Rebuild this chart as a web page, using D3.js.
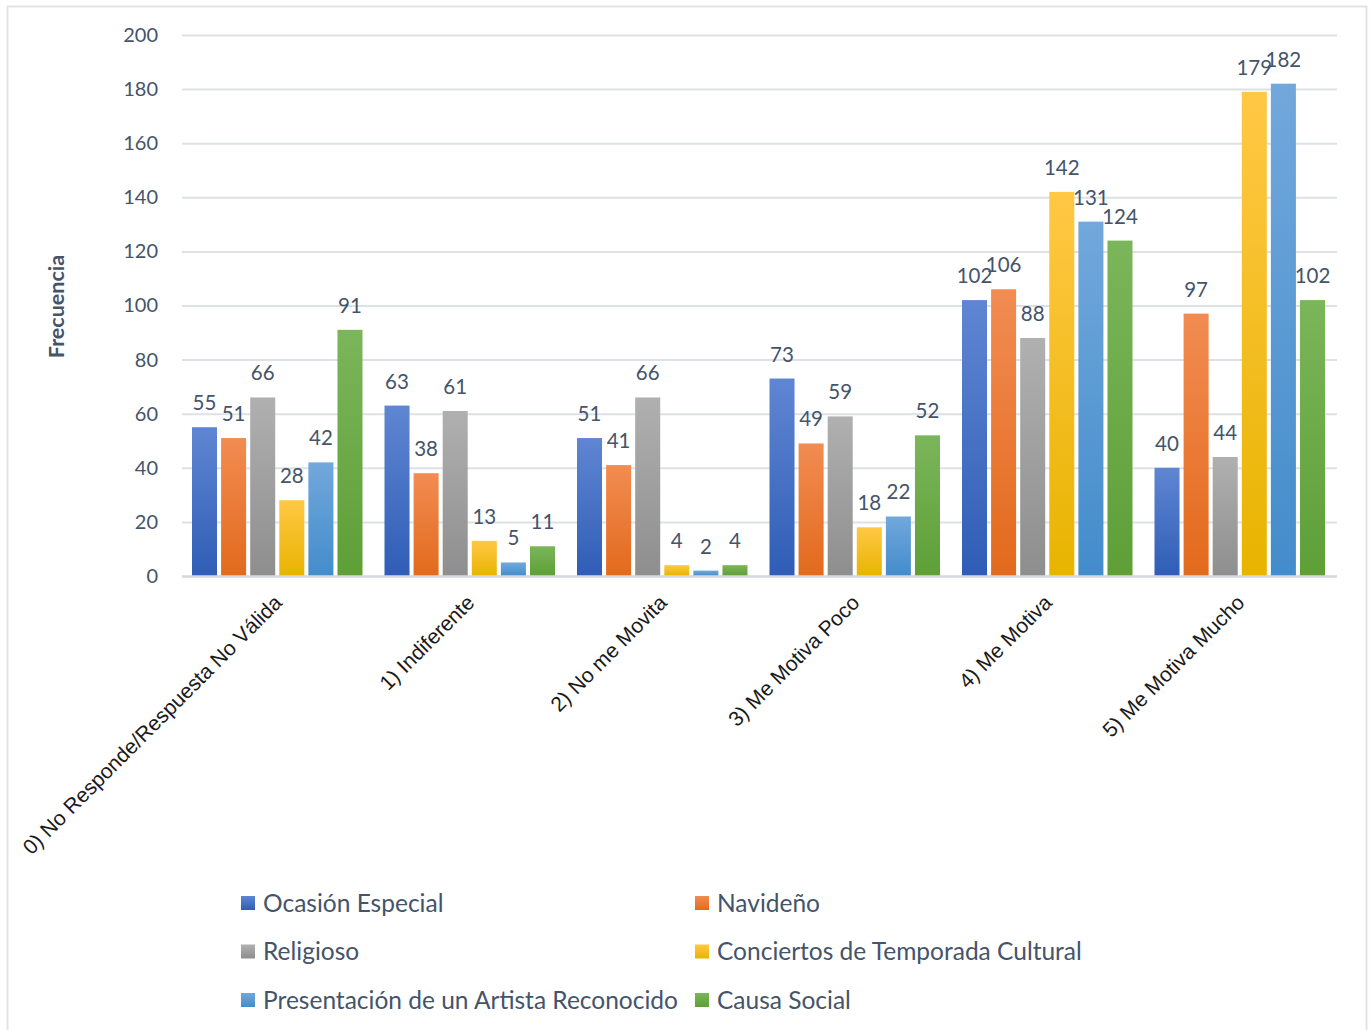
<!DOCTYPE html>
<html>
<head>
<meta charset="utf-8">
<script src="https://cdn.jsdelivr.net/npm/d3@7"></script>
<style>
  html, body { margin: 0; padding: 0; background: #fff; }
  svg { display: block; }
</style>
</head>
<body>
<svg id="chart" width="1371" height="1030"></svg>
<script>
// Response categories (x axis)
const categories = [
  "0) No Responde/Respuesta No Válida",
  "1) Indiferente",
  "2) No me Movita",
  "3) Me Motiva Poco",
  "4) Me Motiva",
  "5) Me Motiva Mucho"
];

// Event types (series)
const seriesNames = [
  "Ocasión Especial",
  "Navideño",
  "Religioso",
  "Conciertos de Temporada Cultural",
  "Presentación de un Artista Reconocido",
  "Causa Social"
];

// Frequencies per series, one value per category
const ocasionEspecial = [55, 63, 51, 73, 102, 40];
const navideno        = [51, 38, 41, 49, 106, 97];
const religioso       = [66, 61, 66, 59, 88, 44];
const conciertos      = [28, 13, 4, 18, 142, 179];
const artista         = [42, 5, 2, 22, 131, 182];
const causaSocial     = [91, 11, 4, 52, 124, 102];

const yTicks = [0, 20, 40, 60, 80, 100, 120, 140, 160, 180, 200];
const yTitle = "Frecuencia";

const seriesValues = [ocasionEspecial, navideno, religioso, conciertos, artista, causaSocial];

// Office palette: [top, bottom] of each bar gradient
const colors = [
  ["#5f86d2", "#2f5db6"],
  ["#f28c52", "#e26a1c"],
  ["#b0b0b0", "#8e8e8e"],
  ["#ffc845", "#e8b400"],
  ["#72a8dc", "#438ccb"],
  ["#7bb65a", "#5e9f37"]
];

const textColor = "#44546a";
const font = "Lato, 'Open Sans', sans-serif";

const svg = d3.select("#chart");

// Outer chart frame
svg.append("rect")
  .attr("x", 7.5).attr("y", 6.5)
  .attr("width", 1359).attr("height", 1040)
  .attr("fill", "none")
  .attr("stroke", "#dfe3e8").attr("stroke-width", 2);

const plot = { left: 182, right: 1337, top: 35, bottom: 576 };

const x0 = d3.scaleBand().domain(categories).range([plot.left, plot.right]);
const x1 = d3.scaleBand().domain(d3.range(seriesNames.length))
  .range([10, x0.bandwidth() - 12]).paddingInner(0.14);
const y = d3.scaleLinear().domain([0, 200]).range([plot.bottom, plot.top]);

// Gradients
const defs = svg.append("defs");
colors.forEach((c, i) => {
  const g = defs.append("linearGradient")
    .attr("id", "grad" + i)
    .attr("x1", 0).attr("y1", 0).attr("x2", 0).attr("y2", 1);
  g.append("stop").attr("offset", "0%").attr("stop-color", c[0]);
  g.append("stop").attr("offset", "100%").attr("stop-color", c[1]);
});

// Gridlines and value axis labels
const yAxis = d3.axisLeft(y).tickValues(yTicks).tickSize(-(plot.right - plot.left)).tickPadding(24);
const gy = svg.append("g")
  .attr("transform", `translate(${plot.left},0)`)
  .call(yAxis);
gy.select(".domain").remove();
gy.selectAll(".tick line").attr("stroke", "#dde1e6").attr("stroke-width", 2);
gy.selectAll(".tick text")
  .attr("fill", textColor)
  .style("font-family", font)
  .style("font-size", "20px");

// Y-axis title
svg.append("text")
  .attr("transform", `translate(64,${(plot.top + plot.bottom) / 2 + 1}) rotate(-90)`)
  .attr("text-anchor", "middle")
  .attr("fill", textColor)
  .style("font-family", font)
  .style("font-weight", "bold")
  .style("font-size", "21.5px")
  .text(yTitle);

// Bars
const groups = svg.append("g").selectAll("g")
  .data(categories)
  .join("g")
  .attr("transform", d => `translate(${x0(d)},0)`);

groups.selectAll("rect")
  .data((d, ci) => seriesValues.map((vals, si) => ({ si, v: vals[ci] })))
  .join("rect")
  .attr("x", d => x1(d.si))
  .attr("y", d => y(d.v))
  .attr("width", x1.bandwidth())
  .attr("height", d => y(0) - y(d.v))
  .attr("fill", d => `url(#grad${d.si})`);

// Data labels
groups.selectAll("text.val")
  .data((d, ci) => seriesValues.map((vals, si) => ({ si, v: vals[ci] })))
  .join("text")
  .attr("class", "val")
  .attr("x", d => x1(d.si) + x1.bandwidth() / 2)
  .attr("y", d => y(d.v) - 17)
  .attr("text-anchor", "middle")
  .attr("fill", textColor)
  .style("font-family", font)
  .style("font-size", "20.5px")
  .text(d => d.v);

// Baseline
svg.append("line")
  .attr("x1", plot.left).attr("x2", plot.right)
  .attr("y1", y(0) + 0.5).attr("y2", y(0) + 0.5)
  .attr("stroke", "#d6dae0").attr("stroke-width", 2.5);

// Category labels, rotated
svg.append("g").selectAll("text")
  .data(categories)
  .join("text")
  .attr("transform", d => `translate(${x0(d) + x0.bandwidth() / 2 + 5},${plot.bottom + 28}) rotate(-45)`)
  .attr("text-anchor", "end")
  .attr("fill", "#1a1a1a")
  .style("font-family", "'Liberation Sans', Arial, sans-serif")
  .style("font-size", "21px")
  .text(d => d);

// Legend (two columns, three rows)
const legend = svg.append("g");
const legItems = legend.selectAll("g")
  .data(seriesNames)
  .join("g")
  .attr("transform", (d, i) => `translate(${i % 2 === 0 ? 241 : 695},${903 + Math.floor(i / 2) * 48.5})`);
legItems.append("rect")
  .attr("x", 0).attr("y", -7)
  .attr("width", 14).attr("height", 14)
  .attr("fill", (d, i) => `url(#grad${i})`);
legItems.append("text")
  .attr("x", 22).attr("y", 0)
  .attr("dy", "0.35em")
  .attr("fill", textColor)
  .style("font-family", font)
  .style("font-size", "24.5px")
  .text(d => d);
</script>
</body>
</html>
